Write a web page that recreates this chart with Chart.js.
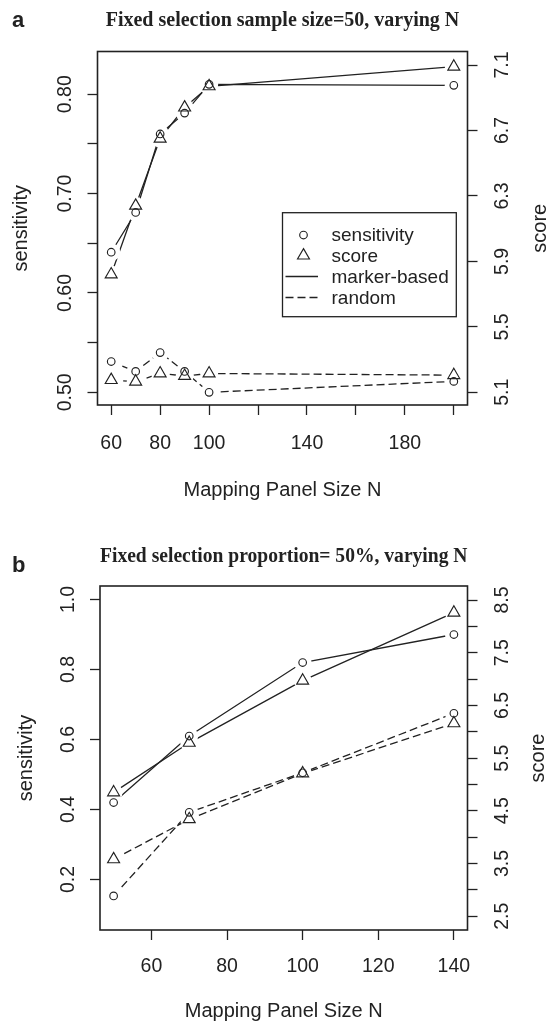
<!DOCTYPE html>
<html><head><meta charset="utf-8">
<script src="https://cdn.jsdelivr.net/npm/chart.js@4.4.1/dist/chart.umd.min.js"></script>
<style>
html,body{margin:0;padding:0;background:#fff;overflow:hidden;width:552px;height:1022px;}
canvas{position:absolute;left:0;display:block;}
#ca{top:0}
#cb{top:511px}
</style></head><body>
<canvas id="ca" width="552" height="511"></canvas>
<canvas id="cb" width="552" height="511"></canvas>
<script>
// ---------- data ----------
const titleA = 'Fixed selection sample size=50, varying N';
const titleB = 'Fixed selection proportion= 50%, varying N';
const xTitle = 'Mapping Panel Size N';
const yTitle = 'sensitivity';
const y1Title = 'score';
const legendLabels = ['sensitivity', 'score', 'marker-based', 'random'];

const nA = [60, 70, 80, 90, 100, 200];
const sensMarkerA  = [0.641, 0.681, 0.760, 0.781, 0.810, 0.809];
const scoreMarkerA = [5.82, 6.24, 6.65, 6.84, 6.97, 7.09];
const sensRandomA  = [0.531, 0.521, 0.540, 0.521, 0.500, 0.511];
const scoreRandomA = [5.175, 5.165, 5.215, 5.20, 5.215, 5.205];

const xTicksA = [60, 80, 100, 120, 140, 160, 180, 200];
const xLabelsA = [60, 80, 100, 140, 180];
const sensTicksA = [0.50, 0.55, 0.60, 0.65, 0.70, 0.75, 0.80];
const sensLabelsA = [0.50, 0.60, 0.70, 0.80];
const scoreTicksA = [5.1, 5.5, 5.9, 6.3, 6.7, 7.1];

const nB = [50, 70, 100, 140];
const sensMarkerB  = [0.42, 0.61, 0.82, 0.90];
const scoreMarkerB = [4.85, 5.79, 6.97, 8.26];
const sensRandomB  = [0.153, 0.392, 0.505, 0.675];
const scoreRandomB = [3.58, 4.34, 5.21, 6.16];

const xTicksB = [60, 80, 100, 120, 140];
const xLabelsB = [60, 80, 100, 120, 140];
const sensTicksB = [0.2, 0.4, 0.6, 0.8, 1.0];
const sensLabelsB = [0.2, 0.4, 0.6, 0.8, 1.0];
const scoreTicksB = [2.5, 3.0, 3.5, 4.0, 4.5, 5.0, 5.5, 6.0, 6.5, 7.0, 7.5, 8.0, 8.5];
const scoreLabelsB = [2.5, 3.5, 4.5, 5.5, 6.5, 7.5, 8.5];

// ---------- style ----------
const INK = '#222';
const SANS = "'Liberation Sans', Arial, Helvetica, sans-serif";
const SERIF = "'Liberation Serif', 'Times New Roman', serif";
const TICKFONT = {family: SANS, size: 19.5};
const DASH = [8, 4];

function has(list, v) { return list.some(l => Math.abs(l - v) < 1e-9); }

function series(xs, ys, yAxisID, pointStyle, dashed) {
  const data = xs.map((x, i) => ({x: x, y: ys[i]}));
  return [
    {type: 'line', data, yAxisID, borderColor: INK, borderWidth: 1.3,
     borderDash: dashed ? DASH : [], pointRadius: 0, fill: false, tension: 0, order: 3},
    {type: 'line', data, yAxisID, showLine: false, pointRadius: 9, pointStyle: 'circle',
     pointBackgroundColor: '#fff', pointBorderColor: 'rgba(0,0,0,0)', pointBorderWidth: 0, order: 2},
    {type: 'line', data, yAxisID, showLine: false,
     pointRadius: pointStyle === 'triangle' ? 6.9 : 3.8, pointStyle: pointStyle,
     pointBackgroundColor: 'rgba(0,0,0,0)', pointBorderColor: INK, pointBorderWidth: 1.15, order: 1}
  ];
}

function drawTri(ctx, x, y, r) {
  ctx.beginPath();
  for (let k = 0; k < 3; k++) {
    const a = k * 2 * Math.PI / 3;
    const px = x + Math.sin(a) * r, py = y - Math.cos(a) * r;
    if (k === 0) ctx.moveTo(px, py); else ctx.lineTo(px, py);
  }
  ctx.closePath();
  ctx.stroke();
}

const decor = {
  id: 'decor',
  afterDatasetsDraw(chart, args, o) {
    const ctx = chart.ctx, a = chart.chartArea;
    ctx.save();
    ctx.setLineDash([]);
    ctx.strokeStyle = INK;
    ctx.lineWidth = 1.6;
    ctx.strokeRect(a.left, a.top, a.right - a.left, a.bottom - a.top);
    if (o.legend) {
      const L = o.legend;
      ctx.fillStyle = '#fff';
      ctx.fillRect(L.x0, L.y0, L.x1 - L.x0, L.y1 - L.y0);
      ctx.lineWidth = 1.3;
      ctx.strokeRect(L.x0, L.y0, L.x1 - L.x0, L.y1 - L.y0);
      ctx.lineWidth = 1.15;
      ctx.beginPath(); ctx.arc(L.symX, L.rows[0], 3.8, 0, 2 * Math.PI); ctx.stroke();
      drawTri(ctx, L.symX, L.rows[1], 6.9);
      ctx.lineWidth = 1.3;
      ctx.beginPath(); ctx.moveTo(L.lineX0, L.rows[2]); ctx.lineTo(L.lineX1, L.rows[2]); ctx.stroke();
      ctx.setLineDash(DASH);
      ctx.beginPath(); ctx.moveTo(L.lineX0, L.rows[3]); ctx.lineTo(L.lineX1, L.rows[3]); ctx.stroke();
      ctx.setLineDash([]);
      ctx.fillStyle = INK;
      ctx.font = '19px ' + SANS;
      ctx.textAlign = 'left';
      ctx.textBaseline = 'middle';
      legendLabels.forEach((t, i) => ctx.fillText(t, L.textX, L.rows[i] + 1));
    }
    ctx.restore();
  },
  afterDraw(chart, args, o) {
    const ctx = chart.ctx, a = chart.chartArea;
    ctx.save();
    ctx.fillStyle = INK;
    ctx.font = 'bold 22px ' + SANS;
    ctx.textAlign = 'left';
    ctx.textBaseline = 'alphabetic';
    ctx.fillText(o.letter, 12, o.letterY);
    ctx.font = '20px ' + SANS;
    ctx.textAlign = 'center';
    ctx.textBaseline = 'middle';
    ctx.translate(o.scoreX, (a.top + a.bottom) / 2);
    ctx.rotate(-Math.PI / 2);
    ctx.fillText(y1Title, 0, 0);
    ctx.restore();
  }
};

function gridOpts() {
  return {display: true, drawOnChartArea: false, drawTicks: true, tickLength: 10,
          tickColor: INK, tickWidth: 1.3};
}

function makeChart(id, p) {
  const datasets = [].concat(
    series(p.xs, p.sensM, 'y', 'circle', false),
    series(p.xs, p.scoreM, 'y1', 'triangle', false),
    series(p.xs, p.sensR, 'y', 'circle', true),
    series(p.xs, p.scoreR, 'y1', 'triangle', true)
  );
  return new Chart(document.getElementById(id), {
    type: 'line',
    data: {datasets},
    plugins: [decor],
    options: {
      responsive: false, animation: false, events: [],
      layout: {padding: 0},
      plugins: {
        legend: {display: false}, tooltip: {enabled: false},
        title: {display: true, text: p.title, fullSize: false, color: INK,
                font: {family: SERIF, size: 20, weight: 'bold'},
                padding: {top: p.titleTop, bottom: p.titleBottom}},
        decor: {letter: p.letter, letterY: p.letterY, scoreX: p.scoreX, legend: p.legend}
      },
      scales: {
        x: {type: 'linear', position: 'bottom', min: p.xMin, max: p.xMax,
            afterBuildTicks: s => { s.ticks = p.xTicks.map(v => ({value: v})); },
            afterFit: s => { s.height = p.xH; },
            grid: gridOpts(), border: {display: false},
            ticks: {autoSkip: false, minRotation: 0, maxRotation: 0, padding: p.xPad,
                    font: TICKFONT, color: INK,
                    callback: v => has(p.xLabels, v) ? String(v) : ''},
            title: {display: true, text: xTitle, color: INK, font: {family: SANS, size: 20},
                    padding: {top: 0, bottom: p.xTitlePad}}},
        y: {type: 'linear', position: 'left', min: p.yMin, max: p.yMax,
            afterBuildTicks: s => { s.ticks = p.yTicks.map(v => ({value: v})); },
            afterFit: s => { s.width = p.leftW; },
            grid: gridOpts(), border: {display: false},
            ticks: {autoSkip: false, minRotation: 90, maxRotation: 90, crossAlign: 'center',
                    padding: p.yPad, font: TICKFONT, color: INK,
                    callback: v => has(p.yLabels, v) ? v.toFixed(p.yDec) : ''},
            title: {display: true, text: yTitle, color: INK, font: {family: SANS, size: 20},
                    padding: {top: p.yTitlePad, bottom: 0}}},
        y1: {type: 'linear', position: 'right', min: p.y1Min, max: p.y1Max,
            afterBuildTicks: s => { s.ticks = p.y1Ticks.map(v => ({value: v})); },
            afterFit: s => { s.width = p.rightW; },
            grid: gridOpts(), border: {display: false},
            ticks: {autoSkip: false, minRotation: 90, maxRotation: 90, crossAlign: 'center',
                    padding: 11.5, font: TICKFONT, color: INK,
                    callback: v => has(p.y1Labels, v) ? v.toFixed(1) : ''}}
      }
    }
  });
}

makeChart('ca', {
  title: titleA, titleTop: 8.7, titleBottom: 18.8, letter: 'a', letterY: 26.7, scoreX: 540,
  xs: nA, sensM: sensMarkerA, scoreM: scoreMarkerA, sensR: sensRandomA, scoreR: scoreRandomA,
  xMin: 54.4, xMax: 205.6, xTicks: xTicksA, xLabels: xLabelsA, xH: 106, xPad: 16.6, xTitlePad: 9,
  yMin: 0.48724, yMax: 0.84302, yTicks: sensTicksA, yLabels: sensLabelsA, yDec: 2,
  leftW: 97.5, yPad: 2.5, yTitlePad: 9,
  y1Min: 5.0224, y1Max: 7.1825, y1Ticks: scoreTicksA, y1Labels: scoreTicksA, rightW: 84.5,
  legend: {x0: 282.5, y0: 212.7, x1: 456.3, y1: 316.7, symX: 303.5, lineX0: 285.5, lineX1: 318,
           textX: 331.5, rows: [235, 255.5, 276.5, 297.5]}
});

makeChart('cb', {
  title: titleB, titleTop: 34.3, titleBottom: 16.7, letter: 'b', letterY: 60.7, scoreX: 538.5,
  xs: nB, sensM: sensMarkerB, scoreM: scoreMarkerB, sensR: sensRandomB, scoreR: scoreRandomB,
  xMin: 46.4, xMax: 143.6, xTicks: xTicksB, xLabels: xLabelsB, xH: 92, xPad: 15, xTitlePad: -1.5,
  yMin: 0.0557, yMax: 1.0386, yTicks: sensTicksB, yLabels: sensLabelsB, yDec: 1,
  leftW: 100, yPad: 8.3, yTitlePad: 14.2,
  y1Min: 2.238, y1Max: 8.766, y1Ticks: scoreTicksB, y1Labels: scoreLabelsB, rightW: 84.5,
  legend: null
});
</script>
</body></html>
